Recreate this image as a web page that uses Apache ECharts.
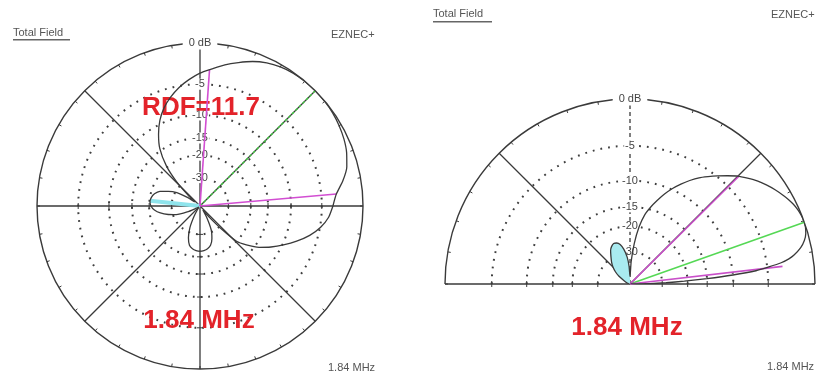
<!DOCTYPE html>
<html>
<head>
<meta charset="utf-8">
<script src="https://cdn.jsdelivr.net/npm/echarts@6/dist/echarts.min.js"></script>
<style>
  html, body { margin: 0; padding: 0; background: #fff; }
  #chart { width: 818px; height: 378px; }
</style>
</head>
<body>
<div id="chart"></div>
<script>
// Azimuth pattern: angle in degrees (counter-clockwise from east), gain in dB
const azAngles = [0, 5, 10, 15, 20, 25, 30, 35, 40, 45, 50, 55, 60, 65, 70, 75, 80, 85, 90,
  95, 100, 105, 110, 115, 120, 125, 130, 134, 138, 142, 146, 150, 155, 160, 165, 170, 175, 180,
  185, 190, 195, 200, 205, 210, 220, 230, 240, 245, 250, 255, 260, 265, 270, 275, 280, 285,
  290, 295, 300, 305, 310, 313, 316, 320, 325, 330, 335, 340, 345, 350, 355, 360];
const azGain = [-3.5, -3.0, -2.0, -1.2, -0.75, -0.45, -0.25, -0.1, -0.02, 0, -0.02, -0.08, -0.25,
  -0.55, -1.0, -1.6, -2.2, -2.9, -3.5, -4.3, -5.2, -6.3, -7.6, -9.3, -11.6, -14.5, -19.5, -27,
  -40, -55, -40, -31, -26.5, -23, -21.3, -20.5, -20.2, -20.6, -21.8, -24, -27.5, -32, -42, -60,
  -80, -70, -45, -33, -27, -23.8, -22.7, -22.2, -22.0, -22.2, -22.7, -23.8, -26.5, -31, -42,
  -60, -40, -28, -20, -17, -14, -11.8, -9.8, -7.9, -6.2, -4.9, -4.0, -3.5];

// Elevation pattern: angle above the horizon in degrees, gain in dB
const elAngles = [0, 1, 2, 3, 4, 5, 6, 7, 8, 9, 10, 12, 14, 16, 18, 20, 22, 24, 26, 28, 30, 33,
  36, 39, 42, 45, 48, 51, 54, 57, 60, 63, 66, 69, 72, 75, 78, 81, 84, 87, 90, 93, 96, 100, 104,
  108, 112, 116, 120, 125, 130, 135, 140, 145, 150, 160, 170, 180];
const elGain = [-99, -38, -28, -21, -15, -10, -6.5, -4.8, -3.3, -2.4, -1.8, -1.0, -0.5, -0.2,
  -0.05, 0, -0.05, -0.15, -0.3, -0.5, -0.75, -1.15, -1.6, -2.1, -2.7, -3.3, -4.1, -4.9, -5.7,
  -6.5, -7.5, -8.6, -9.8, -11.2, -12.8, -14.5, -16.5, -20, -26, -36, -55, -40, -33, -28.5, -26,
  -25, -24.8, -25.5, -26.8, -29.5, -32, -35, -39, -45, -55, -70, -85, -99];

// Dotted gain rings and their labels
const ringDb = [-5, -10, -15, -20, -30];
const ringLabels = ['-5', '-10', '-15', '-20', '-30'];
const outerLabel = '0 dB';

// Marker rays: [angle, dB]
const azPeak = [[45, 0]];
const azBeam = [[5, -3], [86, -3]];
const azRear = [[174, -20.2]];
const elPeak = [[19.5, 0]];
const elBeam = [[6.6, -3.2], [44.7, -3.2]];

const rdfText = 'RDF=11.7';
const freqText = '1.84 MHz';
const fieldText = 'Total Field';
const progText = 'EZNEC+';

// ARRL log scale: radius shrinks by 0.89 for every 2 dB
const arrl = db => Math.pow(0.89, -db / 2);

const INK = '#3a3a3a';
const SMALL_FONT = '11px "Liberation Sans", Arial, sans-serif';

function pattern(angles, gains) {
  return angles.map((a, i) => [arrl(gains[i]), a]);
}

function ringsSeries(pi, half) {
  return {
    type: 'custom', coordinateSystem: 'polar', polarIndex: pi, z: 1, silent: true,
    data: ringDb.map(db => [arrl(db), 0]),
    renderItem(params, api) {
      const cs = params.coordSys;
      const p = api.coord([api.value(0), api.value(1)]);
      const r = Math.hypot(p[0] - cs.cx, p[1] - cs.cy);
      return {
        type: 'arc',
        shape: { cx: cs.cx, cy: cs.cy, r: r, startAngle: half ? Math.PI : 0, endAngle: 2 * Math.PI, clockwise: true },
        style: { stroke: '#3f3f3f', fill: null, lineWidth: 2, lineDash: [1.8, 6] }
      };
    }
  };
}

function ringLabelSeries(pi) {
  return {
    type: 'custom', coordinateSystem: 'polar', polarIndex: pi, z: 4, silent: true,
    data: ringDb.map(db => [arrl(db), 90]),
    renderItem(params, api) {
      const p = api.coord([api.value(0), api.value(1)]);
      return {
        type: 'text', x: p[0], y: p[1],
        style: {
          text: ringLabels[params.dataIndex], fill: '#444', font: SMALL_FONT,
          align: 'center', verticalAlign: 'middle', backgroundColor: '#fff', padding: [0, 1]
        }
      };
    }
  };
}

function frameSeries(pi, solidAngles, dashedAngles, tickAngles) {
  return {
    type: 'custom', coordinateSystem: 'polar', polarIndex: pi, z: 3, silent: true,
    data: [[0, 0]],
    renderItem(params, api) {
      const kids = [];
      const c = api.coord([0, 0]);
      solidAngles.forEach(a => {
        const p = api.coord([1, a]);
        kids.push({ type: 'line', shape: { x1: c[0], y1: c[1], x2: p[0], y2: p[1] },
          style: { stroke: INK, lineWidth: 1.3 } });
      });
      dashedAngles.forEach(a => {
        const p = api.coord([1, a]);
        kids.push({ type: 'line', shape: { x1: c[0], y1: c[1], x2: p[0], y2: p[1] },
          style: { stroke: INK, lineWidth: 1.3, lineDash: [4, 3] } });
      });
      tickAngles.forEach(a => {
        const rad = a * Math.PI / 180;
        const dx = Math.sin(rad) * 3, dy = Math.cos(rad) * 3;
        ringDb.forEach(db => {
          const p = api.coord([arrl(db), a]);
          kids.push({ type: 'line', shape: { x1: p[0] - dx, y1: p[1] - dy, x2: p[0] + dx, y2: p[1] + dy },
            style: { stroke: INK, lineWidth: 1 } });
        });
      });
      const top = api.coord([1, 90]);
      kids.push({ type: 'text', x: top[0], y: top[1],
        style: { text: outerLabel, fill: '#444', font: SMALL_FONT, align: 'center',
          verticalAlign: 'middle', backgroundColor: '#fff', padding: [1, 6] } });
      return { type: 'group', children: kids };
    }
  };
}

function raySeries(pi, pts, color, width, dash, z) {
  return {
    type: 'custom', coordinateSystem: 'polar', polarIndex: pi, z: z, silent: true,
    data: pts.map(p => [arrl(p[1]), p[0]]),
    renderItem(params, api) {
      const c = api.coord([0, api.value(1)]);
      const p = api.coord([api.value(0), api.value(1)]);
      return { type: 'line', shape: { x1: c[0], y1: c[1], x2: p[0], y2: p[1] },
        style: { stroke: color, lineWidth: width, lineDash: dash || null, lineCap: 'butt' } };
    }
  };
}

// Filled rear lobe of the elevation pattern
const rearFill = {
  type: 'custom', coordinateSystem: 'polar', polarIndex: 1, z: 5, silent: true,
  data: [[0, 0]],
  renderItem(params, api) {
    const pts = [api.coord([0, 0])];
    elAngles.forEach((a, i) => { if (a >= 88) pts.push(api.coord([arrl(elGain[i]), a])); });
    return { type: 'polygon', shape: { points: pts, smooth: 0.3 }, style: { fill: '#a9ebf0', stroke: null } };
  }
};

const angleCommon = {
  type: 'value', interval: 10, startAngle: 0, clockwise: false,
  axisLine: { lineStyle: { color: INK, width: 1.4 } },
  axisTick: { show: true, inside: true, length: 3, lineStyle: { color: INK, width: 1 } },
  axisLabel: { show: false }, splitLine: { show: false }
};
const radiusCommon = {
  type: 'value', min: 0, max: 1,
  axisLine: { show: false }, axisTick: { show: false }, axisLabel: { show: false }, splitLine: { show: false }
};

const txt = (x, y, text, font, fill, align, z) => ({
  type: 'text', x: x, y: y, z: z || 2,
  style: { text: text, font: font, fill: fill, align: align || 'left', verticalAlign: 'middle' }
});
const RED_FONT = 'bold 26px "Liberation Sans", Arial, sans-serif';
const RED = '#e3232a';

const option = {
  animation: false,
  backgroundColor: '#fff',
  polar: [
    { center: [200, 206], radius: 163 },
    { center: [630, 284], radius: 185 }
  ],
  angleAxis: [
    Object.assign({}, angleCommon, { polarIndex: 0, min: 0, max: 360 }),
    Object.assign({}, angleCommon, { polarIndex: 1, min: 0, max: 180, endAngle: 180 })
  ],
  radiusAxis: [
    Object.assign({}, radiusCommon, { polarIndex: 0 }),
    Object.assign({}, radiusCommon, { polarIndex: 1 })
  ],
  graphic: [
    txt(13, 33, fieldText, SMALL_FONT, '#555'),
    { type: 'rect', shape: { x: 13, y: 39, width: 57, height: 1.6 }, style: { fill: '#666' } },
    txt(331, 35, progText, SMALL_FONT, '#555'),
    txt(328, 368, freqText, SMALL_FONT, '#555'),
    txt(433, 14, fieldText, SMALL_FONT, '#555'),
    { type: 'rect', shape: { x: 433, y: 21, width: 59, height: 1.6 }, style: { fill: '#666' } },
    txt(771, 15, progText, SMALL_FONT, '#555'),
    txt(767, 367, freqText, SMALL_FONT, '#555'),
    txt(201, 108, rdfText, RED_FONT, RED, 'center', 5),
    txt(199, 321, freqText, RED_FONT, RED, 'center', 5),
    txt(627, 328, freqText, RED_FONT, RED, 'center', 5)
  ],
  series: [
    ringsSeries(0, false),
    ringsSeries(1, true),
    frameSeries(0, [0, 45, 90, 135, 180, 225, 270, 315], [], [0, 90, 180, 270]),
    frameSeries(1, [0, 45, 135, 180], [90], [0, 180]),
    ringLabelSeries(0),
    ringLabelSeries(1),
    rearFill,
    raySeries(0, azRear, '#8fe4ec', 4, null, 6),
    raySeries(0, azPeak, '#3cc83c', 1.3, [3, 2], 7),
    raySeries(0, azBeam, '#d24ed2', 1.6, null, 7),
    raySeries(1, elPeak, '#55d855', 1.6, null, 7),
    raySeries(1, elBeam, '#c94fc9', 1.6, null, 7),
    {
      type: 'line', coordinateSystem: 'polar', polarIndex: 0, z: 8, silent: true,
      data: pattern(azAngles, azGain), showSymbol: false, smooth: 0.2,
      lineStyle: { color: INK, width: 1.3 }
    },
    {
      type: 'line', coordinateSystem: 'polar', polarIndex: 1, z: 8, silent: true,
      data: pattern(elAngles, elGain), showSymbol: false, smooth: 0.2,
      lineStyle: { color: INK, width: 1.3 }
    }
  ]
};

const chart = echarts.init(document.getElementById('chart'));
chart.setOption(option);
</script>
</body>
</html>
